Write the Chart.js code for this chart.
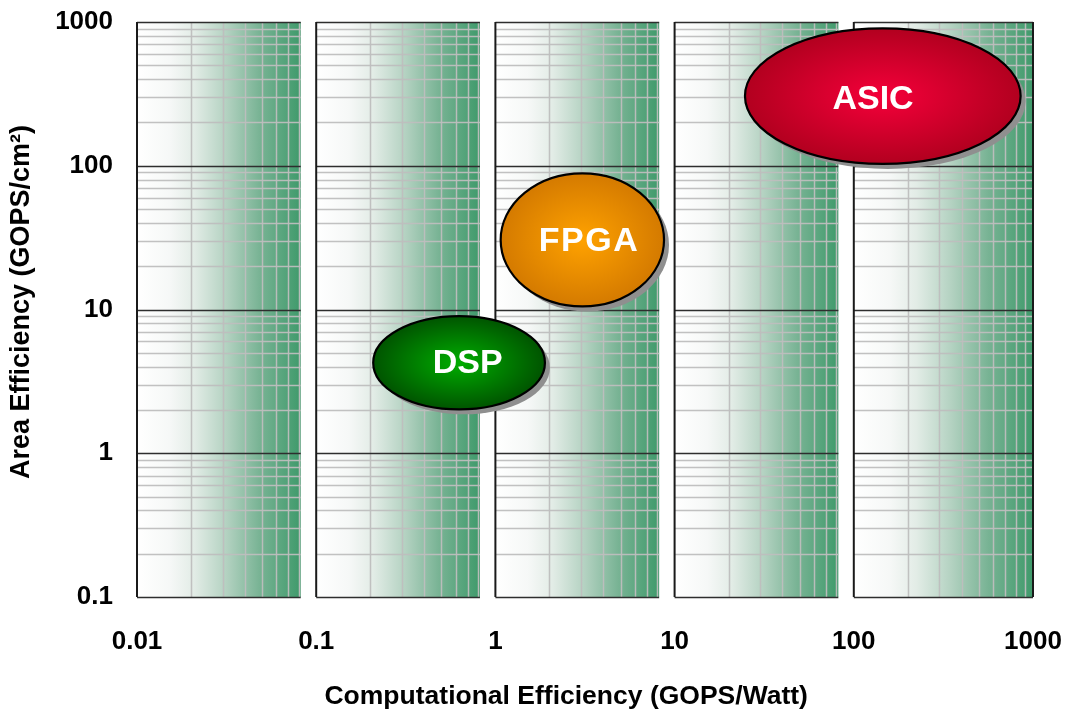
<!DOCTYPE html>
<html>
<head>
<meta charset="utf-8">
<script src="https://cdn.jsdelivr.net/npm/chart.js@4.4.1/dist/chart.umd.min.js"></script>
<style>
  html, body { margin: 0; padding: 0; background: #ffffff; }
  #wrap { width: 1068px; height: 713px; }
</style>
</head>
<body>
<div id="wrap"><canvas id="chart" width="1068" height="713"></canvas></div>
<script>
// Axis ticks (log-log)
const xTickValues = [0.01, 0.1, 1, 10, 100, 1000];
const xTickLabels = ['0.01', '0.1', '1', '10', '100', '1000'];
const yTickValues = [0.1, 1, 10, 100, 1000];
const yTickLabels = ['0.1', '1', '10', '100', '1000'];
const xTitle = 'Computational Efficiency (GOPS/Watt)';
const yTitle = 'Area Efficiency (GOPS/cm²)';

// Shaded decade panels along the x axis (start / end value)
const panelStarts = [0.01, 0.1, 1, 10, 100];
const panelEnds = [0.082, 0.82, 8.2, 82, 1000];
const minorSteps = [2, 3, 4, 5, 6, 7, 8, 9];

// Technology regions: extent in GOPS/Watt (x) and GOPS/cm² (y)
const technologies = ['DSP', 'FPGA', 'ASIC'];
const computeMin = [0.208, 1.07, 24.7];
const computeMax = [1.89, 8.73, 853];
const areaMin = [2.02, 10.5, 103];
const areaMax = [9.0, 88.6, 904];
// Label anchor points
const labelX = [0.70, 3.33, 128];
const labelY = [4.28, 30, 291];

const regionColors = [
  { center: '#00ad00', edge: '#005400' },
  { center: '#ffa200', edge: '#d47a00' },
  { center: '#f5003a', edge: '#b2001f' }
];
const labelSpacing = ['0px', '1.5px', '0px'];

const FONT = '"Liberation Sans", Arial, Helvetica, sans-serif';

// Gradient panels and grid lines, clipped to each panel
const panelPlugin = {
  id: 'panels',
  beforeDatasetsDraw(chart) {
    const { ctx, scales: { x, y } } = chart;
    const top = y.getPixelForValue(yTickValues[yTickValues.length - 1]);
    const bottom = y.getPixelForValue(yTickValues[0]);
    ctx.save();
    panelStarts.forEach((start, i) => {
      const end = panelEnds[i];
      const left = x.getPixelForValue(start);
      const right = x.getPixelForValue(end);
      const g = ctx.createLinearGradient(left, 0, right, 0);
      g.addColorStop(0, '#ffffff');
      g.addColorStop(0.2, '#f6f8f7');
      g.addColorStop(0.35, '#e2ece6');
      g.addColorStop(0.55, '#b2d1c0');
      g.addColorStop(0.75, '#78b394');
      g.addColorStop(1, '#3f9a6b');
      ctx.fillStyle = g;
      ctx.fillRect(left, top, right - left, bottom - top);

      // minor vertical lines
      ctx.strokeStyle = 'rgba(190,190,190,0.95)';
      ctx.lineWidth = 1.5;
      minorSteps.forEach(m => {
        const v = start * m;
        if (v >= end) return;
        const px = Math.round(x.getPixelForValue(v)) + 0.5;
        ctx.beginPath();
        ctx.moveTo(px, top);
        ctx.lineTo(px, bottom);
        ctx.stroke();
      });

      // minor horizontal lines
      for (let d = 0; d < yTickValues.length - 1; d++) {
        minorSteps.forEach(m => {
          const py = Math.round(y.getPixelForValue(yTickValues[d] * m)) + 0.5;
          ctx.beginPath();
          ctx.moveTo(left, py);
          ctx.lineTo(right, py);
          ctx.stroke();
        });
      }

      // major horizontal lines
      ctx.strokeStyle = '#2e2e2e';
      ctx.lineWidth = 1.5;
      yTickValues.forEach(v => {
        const py = Math.round(y.getPixelForValue(v)) + 0.5;
        ctx.beginPath();
        ctx.moveTo(left, py);
        ctx.lineTo(right, py);
        ctx.stroke();
      });

      // panel left edge
      ctx.strokeStyle = '#1a1a1a';
      ctx.lineWidth = 2;
      ctx.beginPath();
      ctx.moveTo(left, top);
      ctx.lineTo(left, bottom);
      ctx.stroke();
      if (end === xTickValues[xTickValues.length - 1]) {
        ctx.beginPath();
        ctx.moveTo(right, top);
        ctx.lineTo(right, bottom);
        ctx.stroke();
      }
    });
    ctx.restore();
  }
};

// Elliptical technology regions with drop shadow and radial shading
const regionPlugin = {
  id: 'regions',
  afterDatasetsDraw(chart) {
    const { ctx, scales: { x, y } } = chart;
    technologies.forEach((name, i) => {
      const x0 = x.getPixelForValue(computeMin[i]);
      const x1 = x.getPixelForValue(computeMax[i]);
      const y0 = y.getPixelForValue(areaMax[i]);
      const y1 = y.getPixelForValue(areaMin[i]);
      const cx = (x0 + x1) / 2, cy = (y0 + y1) / 2;
      const rx = (x1 - x0) / 2, ry = (y1 - y0) / 2;
      ctx.save();
      // shadow
      ctx.beginPath();
      ctx.ellipse(cx + 5, cy + 5, rx, ry, 0, 0, Math.PI * 2);
      ctx.fillStyle = '#8f8f8f';
      ctx.fill();
      // body
      ctx.save();
      ctx.translate(cx, cy);
      ctx.scale(rx, ry);
      const g = ctx.createRadialGradient(0, 0, 0, 0, 0, 1);
      g.addColorStop(0, regionColors[i].center);
      g.addColorStop(1, regionColors[i].edge);
      ctx.beginPath();
      ctx.arc(0, 0, 1, 0, Math.PI * 2);
      ctx.fillStyle = g;
      ctx.fill();
      ctx.restore();
      ctx.beginPath();
      ctx.ellipse(cx, cy, rx, ry, 0, 0, Math.PI * 2);
      ctx.lineWidth = 2.2;
      ctx.strokeStyle = '#000000';
      ctx.stroke();
      // label
      ctx.fillStyle = '#ffffff';
      ctx.font = 'bold 34px ' + FONT;
      ctx.textAlign = 'center';
      ctx.textBaseline = 'middle';
      ctx.letterSpacing = labelSpacing[i];
      ctx.fillText(name, x.getPixelForValue(labelX[i]), y.getPixelForValue(labelY[i]) + 1);
      ctx.restore();
    });
  }
};

// Axis titles, placed relative to the plot area
const titlePlugin = {
  id: 'axisTitles',
  afterDraw(chart) {
    const { ctx, chartArea } = chart;
    ctx.save();
    ctx.fillStyle = '#000000';
    ctx.textAlign = 'center';
    ctx.textBaseline = 'middle';
    ctx.font = 'bold 26.5px ' + FONT;
    ctx.fillText(xTitle, chartArea.left + (chartArea.right - chartArea.left) * 0.479, chartArea.bottom + 100);
    ctx.translate(22, chartArea.top + (chartArea.bottom - chartArea.top) * 0.487);
    ctx.rotate(-Math.PI / 2);
    ctx.font = 'bold 27px ' + FONT;
    ctx.fillText(yTitle, 0, 0);
    ctx.restore();
  }
};

// keep the plot area fixed: no extra room for overhanging tick labels
function noOverhang(s) {
  s.paddingTop = 0;
  s.paddingBottom = 0;
  s.paddingLeft = 0;
  s.paddingRight = 0;
}

new Chart(document.getElementById('chart'), {
  type: 'scatter',
  data: {
    datasets: [{
      label: 'Technologies',
      data: technologies.map((t, i) => ({ x: labelX[i], y: labelY[i] })),
      pointRadius: 0,
      showLine: false
    }]
  },
  options: {
    responsive: false,
    animation: false,
    events: [],
    layout: { padding: { top: 22, right: 35, left: 0, bottom: 0 } },
    plugins: { legend: { display: false }, tooltip: { enabled: false } },
    scales: {
      x: {
        type: 'logarithmic',
        min: xTickValues[0],
        max: xTickValues[xTickValues.length - 1],
        afterBuildTicks: s => { s.ticks = xTickValues.map(v => ({ value: v })); },
        afterFit: s => { s.height = 116; noOverhang(s); },
        grid: { display: false, drawTicks: false },
        border: { display: false },
        ticks: {
          autoSkip: false,
          maxRotation: 0,
          padding: 29,
          color: '#000000',
          font: { family: FONT, size: 26, weight: 'bold' },
          callback: (v) => xTickLabels[xTickValues.indexOf(v)] ?? ''
        },
        title: { display: false }
      },
      y: {
        type: 'logarithmic',
        min: yTickValues[0],
        max: yTickValues[yTickValues.length - 1],
        afterBuildTicks: s => { s.ticks = yTickValues.map(v => ({ value: v })); },
        afterFit: s => { s.width = 137; noOverhang(s); },
        grid: { display: false, drawTicks: false },
        border: { display: false },
        ticks: {
          autoSkip: false,
          padding: 24,
          color: '#000000',
          font: { family: FONT, size: 26, weight: 'bold' },
          callback: (v) => yTickLabels[yTickValues.indexOf(v)] ?? ''
        },
        title: { display: false }
      }
    }
  },
  plugins: [panelPlugin, regionPlugin, titlePlugin]
});
</script>
</body>
</html>
